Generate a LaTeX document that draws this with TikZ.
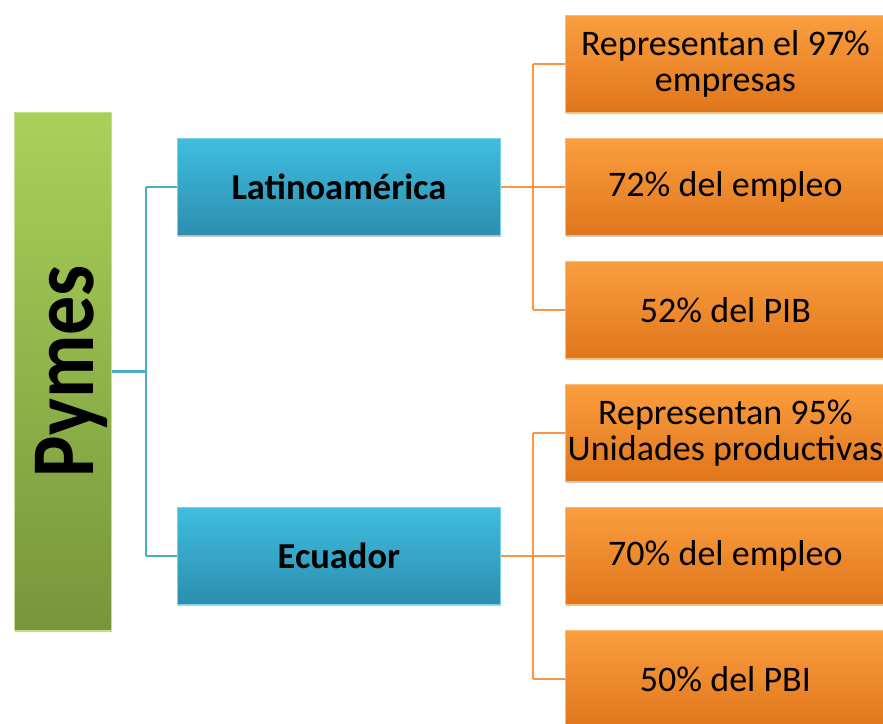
\documentclass[tikz,border=0pt]{standalone}
\usepackage{fontspec}
\setmainfont{Carlito}
\usetikzlibrary{shadows}
\definecolor{gtop}{HTML}{A9D15A}
\definecolor{gbot}{HTML}{77963A}
\definecolor{btop}{HTML}{40BDE0}
\definecolor{bbot}{HTML}{2C8EAE}
\definecolor{otop}{HTML}{FA9E3E}
\definecolor{obot}{HTML}{E0761C}
\definecolor{bline}{HTML}{4BACC6}
\definecolor{oline}{HTML}{F79646}
\tikzset{
  box/.style={rectangle, inner sep=0pt, anchor=north west, line width=0.8pt,
    drop shadow={shadow xshift=1pt, shadow yshift=-2pt, opacity=0.35, fill=black!60}},
  greenbox/.style={box, top color=gtop, bottom color=gbot, draw=gtop!70!white},
  bluebox/.style={box, top color=btop, bottom color=bbot, draw=btop!70!white,
    minimum width=323pt, minimum height=97pt,
    font=\fontsize{36.5}{40}\selectfont\bfseries},
  orangebox/.style={box, top color=otop, bottom color=obot, draw=otop!70!white,
    minimum width=320pt, minimum height=97pt,
    font=\fontsize{36}{36}\selectfont, align=center},
  bconn/.style={draw=bline, line width=2.6pt},
  oconn/.style={draw=oline, line width=2.6pt},
}
\begin{document}
\begin{tikzpicture}[x=1pt,y=-1pt]
\useasboundingbox (0,0) rectangle (883,723);
\clip (0,0) rectangle (883,723);
\node[greenbox, minimum width=97pt, minimum height=518pt] (pymes) at (14,112) {};
\node[rotate=90, font=\fontsize{78}{80}\selectfont\bfseries] (pymestxt) at ([xshift=9pt]pymes.center) {\scalebox{1}[1.15]{Pymes}};
\node[bluebox] (lat) at (177,138) {Latinoamérica};
\node[bluebox] (ecu) at (177,507) {Ecuador};
\node[orangebox] (o1) at (565,15) {Representan el 97\%\\empresas};
\node[orangebox] (o2) at (565,138) {72\% del empleo};
\node[orangebox] (o3) at (565,261) {52\% del PIB};
\node[orangebox] (o4) at (565,384) {Representan 95\%\\Unidades productivas};
\node[orangebox] (o5) at (565,507) {70\% del empleo};
\node[orangebox] (o6) at (565,630) {50\% del PBI};
\coordinate (bj) at (146,0);
\coordinate (oj) at (533,0);
\draw[bconn] (pymes.east) -- (bj |- pymes.east);
\draw[bconn] (bj |- lat.west) -- (bj |- ecu.west);
\draw[bconn] (bj |- lat.west) -- (lat.west);
\draw[bconn] (bj |- ecu.west) -- (ecu.west);
\draw[oconn] (lat.east) -- (oj |- lat.east);
\draw[oconn] (oj |- o1.west) -- (oj |- o3.west);
\draw[oconn] (oj |- o1.west) -- (o1.west);
\draw[oconn] (oj |- o2.west) -- (o2.west);
\draw[oconn] (oj |- o3.west) -- (o3.west);
\draw[oconn] (ecu.east) -- (oj |- ecu.east);
\draw[oconn] (oj |- o4.west) -- (oj |- o6.west);
\draw[oconn] (oj |- o4.west) -- (o4.west);
\draw[oconn] (oj |- o5.west) -- (o5.west);
\draw[oconn] (oj |- o6.west) -- (o6.west);
\end{tikzpicture}
\end{document}
